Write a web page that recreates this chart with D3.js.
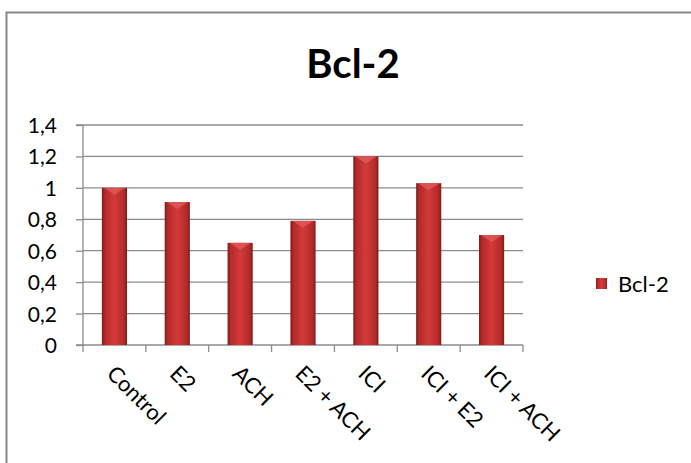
<!DOCTYPE html>
<html><head><meta charset="utf-8">
<script src="https://cdn.jsdelivr.net/npm/d3@7"></script>
<style>body{margin:0;background:#fff}svg{display:block}text{font-family:Lato,"Open Sans",sans-serif}</style>
</head><body>
<svg id="c" width="691" height="463"></svg>
<script>
const categories = ["Control","E2","ACH","E2 + ACH","ICI","ICI + E2","ICI + ACH"];
const values = [1.0, 0.91, 0.65, 0.79, 1.2, 1.03, 0.70];
const yTicks = [0,0.2,0.4,0.6,0.8,1.0,1.2,1.4];
const seriesName = "Bcl-2";
const chartTitle = "Bcl-2";

(function(){
const svg = d3.select("#c");
const defs = svg.append("defs");
const g1 = defs.append("linearGradient").attr("id","barg").attr("x1","0").attr("x2","1").attr("y1","0").attr("y2","0");
[[0,"#7e1a1a"],[0.12,"#b32a2a"],[0.5,"#d33a3a"],[0.88,"#b32a2a"],[1,"#7e1a1a"]].forEach(([o,c])=>g1.append("stop").attr("offset",o).attr("stop-color",c));

// frame
svg.append("path").attr("d","M6.5,463 V12.5 H691").attr("fill","none").attr("stroke","#888").attr("stroke-width",2);

const pL=83, pR=523, pT=125, pB=345;
const x = d3.scaleBand().domain(categories).range([pL,pR]).padding(0);
const y = d3.scaleLinear().domain([0,1.4]).range([pB,pT]);

// gridlines
svg.append("g").selectAll("line").data(yTicks.filter(d=>d>0)).join("line")
  .attr("x1",pL).attr("x2",pR).attr("y1",d=>y(d)).attr("y2",d=>y(d))
  .attr("stroke","#8c8c8c").attr("stroke-width",1.3);

// y axis
const yAxis = svg.append("g").attr("transform",`translate(${pL},0)`)
  .call(d3.axisLeft(y).tickValues(yTicks).tickSize(7).tickPadding(19).tickFormat(d=>d3.format(".1f")(d).replace(".",",").replace(/^0,0$/,"0").replace(/^1,0$/,"1")));
yAxis.select(".domain").attr("stroke","#8c8c8c").attr("stroke-width",1.3).attr("d",`M-7,${pT}H0V${pB}H-7`);
yAxis.selectAll(".tick line").attr("stroke","#8c8c8c").attr("stroke-width",1.3);
yAxis.selectAll("text").attr("font-size",21).attr("fill","#000").attr("dy","0.36em");

// x axis
const xAxis = svg.append("g").attr("transform",`translate(0,${pB})`)
  .call(d3.axisBottom(x).tickSize(0).tickFormat(""));
xAxis.select(".domain").attr("stroke","#8c8c8c").attr("stroke-width",1.3).attr("d",`M${pL},0H${pR}`);
xAxis.selectAll(".tick").remove();
const bounds = categories.map(c=>x(c)).concat([pR]);
xAxis.selectAll("line.sep").data(bounds).join("line").attr("class","sep")
  .attr("x1",d=>d).attr("x2",d=>d).attr("y1",0).attr("y2",7).attr("stroke","#8c8c8c").attr("stroke-width",1.3);
svg.append("g").selectAll("text").data(categories).join("text")
  .attr("transform",d=>`translate(${x(d)+x.bandwidth()/2+2},${pB+19}) rotate(45)`)
  .attr("font-size",22).attr("dy","0.7em").attr("text-anchor","start").text(d=>d);

// bars
const bw = x.bandwidth()*0.4;
const bars = svg.append("g").selectAll("g").data(values).join("g");
bars.append("rect")
  .attr("x",(d,i)=>x(categories[i])+x.bandwidth()/2-bw/2).attr("width",bw)
  .attr("y",d=>y(d)).attr("height",d=>pB-y(d)).attr("fill","url(#barg)");
bars.append("path")
  .attr("d",(d,i)=>{const cx=x(categories[i])+x.bandwidth()/2; const t=y(d);
    return `M${cx-bw/2+2},${t}H${cx+bw/2-2}L${cx},${t+7}Z`;})
  .attr("fill","#e05a5a").attr("opacity",0.8);

// title
svg.append("text").attr("x",353).attr("y",78).attr("text-anchor","middle")
  .attr("font-size",40).attr("font-weight","bold").text(chartTitle);

// legend
svg.append("rect").attr("x",596).attr("y",278).attr("width",11).attr("height",11).attr("fill","url(#barg)");
svg.append("text").attr("x",618).attr("y",292).attr("font-size",22).text(seriesName);
})();
</script>
</body></html>
